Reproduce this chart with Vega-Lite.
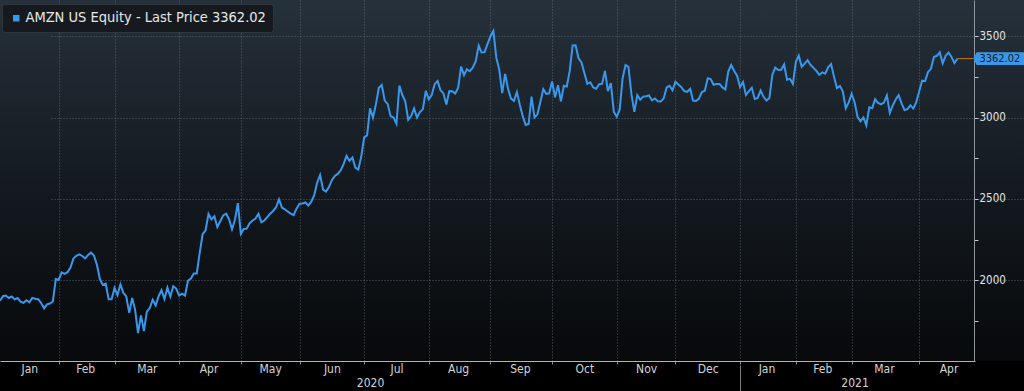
{
  "$schema": "https://vega.github.io/schema/vega-lite/v6.json",
  "width": 1024,
  "height": 361,
  "autosize": {"type": "none"},
  "padding": {"left": 0, "top": 0, "right": 0, "bottom": 30},
  "background": "#000000",
  "config": {
    "font": "DejaVu Sans Condensed, Liberation Sans",
    "view": {"stroke": null, "fill": {"gradient": "linear", "x1": 0, "y1": 0, "x2": 0, "y2": 1, "stops": [{"offset": 0, "color": "#26313b"}, {"offset": 0.5, "color": "#141a20"}, {"offset": 1, "color": "#07090b"}]}},
    "axis": {"labelFont": "DejaVu Sans Condensed, Liberation Sans", "title": null}
  },
  "data": {"values": [
    {"date":"2020-01-03","price":1874.97},{"date":"2020-01-06","price":1902.88},{"date":"2020-01-07","price":1906.86},{"date":"2020-01-08","price":1891.97},{"date":"2020-01-09","price":1901.05},{"date":"2020-01-10","price":1883.16},{"date":"2020-01-13","price":1891.30},{"date":"2020-01-14","price":1869.44},{"date":"2020-01-15","price":1862.02},{"date":"2020-01-16","price":1877.94},{"date":"2020-01-17","price":1864.72},{"date":"2020-01-21","price":1892.00},{"date":"2020-01-22","price":1887.46},{"date":"2020-01-23","price":1884.58},{"date":"2020-01-24","price":1861.64},{"date":"2020-01-27","price":1828.34},{"date":"2020-01-28","price":1853.25},{"date":"2020-01-29","price":1858.00},{"date":"2020-01-30","price":1870.68},{"date":"2020-01-31","price":2008.72},
    {"date":"2020-02-03","price":2004.20},{"date":"2020-02-04","price":2049.67},{"date":"2020-02-05","price":2039.87},{"date":"2020-02-06","price":2050.23},{"date":"2020-02-07","price":2079.28},{"date":"2020-02-10","price":2133.91},{"date":"2020-02-11","price":2150.80},{"date":"2020-02-12","price":2160.00},{"date":"2020-02-13","price":2149.87},{"date":"2020-02-14","price":2134.87},{"date":"2020-02-18","price":2155.67},{"date":"2020-02-19","price":2170.22},{"date":"2020-02-20","price":2153.10},{"date":"2020-02-21","price":2095.97},{"date":"2020-02-24","price":2009.29},{"date":"2020-02-25","price":1972.74},{"date":"2020-02-26","price":1979.59},{"date":"2020-02-27","price":1884.30},{"date":"2020-02-28","price":1883.75},
    {"date":"2020-03-02","price":1953.95},{"date":"2020-03-03","price":1908.99},{"date":"2020-03-04","price":1975.83},{"date":"2020-03-05","price":1924.03},{"date":"2020-03-06","price":1901.09},{"date":"2020-03-09","price":1800.61},{"date":"2020-03-10","price":1891.82},{"date":"2020-03-11","price":1820.86},{"date":"2020-03-12","price":1676.61},{"date":"2020-03-13","price":1785.00},{"date":"2020-03-16","price":1689.15},{"date":"2020-03-17","price":1807.84},{"date":"2020-03-18","price":1830.00},{"date":"2020-03-19","price":1880.93},{"date":"2020-03-20","price":1846.09},{"date":"2020-03-23","price":1902.83},{"date":"2020-03-24","price":1940.10},{"date":"2020-03-25","price":1885.84},{"date":"2020-03-26","price":1955.49},{"date":"2020-03-27","price":1900.10},{"date":"2020-03-30","price":1963.95},{"date":"2020-03-31","price":1949.72},
    {"date":"2020-04-01","price":1907.70},{"date":"2020-04-02","price":1918.83},{"date":"2020-04-03","price":1906.59},{"date":"2020-04-06","price":1997.59},{"date":"2020-04-07","price":2011.60},{"date":"2020-04-08","price":2043.00},{"date":"2020-04-09","price":2042.76},{"date":"2020-04-13","price":2168.87},{"date":"2020-04-14","price":2283.32},{"date":"2020-04-15","price":2307.68},{"date":"2020-04-16","price":2408.19},{"date":"2020-04-17","price":2375.00},{"date":"2020-04-20","price":2393.61},{"date":"2020-04-21","price":2328.12},{"date":"2020-04-22","price":2363.49},{"date":"2020-04-23","price":2399.45},{"date":"2020-04-24","price":2410.22},{"date":"2020-04-27","price":2376.00},{"date":"2020-04-28","price":2314.08},{"date":"2020-04-29","price":2372.71},{"date":"2020-04-30","price":2474.00},
    {"date":"2020-05-01","price":2286.04},{"date":"2020-05-04","price":2315.99},{"date":"2020-05-05","price":2317.80},{"date":"2020-05-06","price":2351.26},{"date":"2020-05-07","price":2367.61},{"date":"2020-05-08","price":2379.61},{"date":"2020-05-11","price":2409.00},{"date":"2020-05-12","price":2356.95},{"date":"2020-05-13","price":2367.92},{"date":"2020-05-14","price":2388.85},{"date":"2020-05-15","price":2409.78},{"date":"2020-05-18","price":2426.26},{"date":"2020-05-19","price":2449.33},{"date":"2020-05-20","price":2497.94},{"date":"2020-05-21","price":2446.74},{"date":"2020-05-22","price":2436.88},{"date":"2020-05-26","price":2421.86},{"date":"2020-05-27","price":2410.39},{"date":"2020-05-28","price":2401.10},{"date":"2020-05-29","price":2442.37},
    {"date":"2020-06-01","price":2471.04},{"date":"2020-06-02","price":2472.41},{"date":"2020-06-03","price":2478.40},{"date":"2020-06-04","price":2460.60},{"date":"2020-06-05","price":2483.00},{"date":"2020-06-08","price":2524.06},{"date":"2020-06-09","price":2600.86},{"date":"2020-06-10","price":2647.45},{"date":"2020-06-11","price":2557.96},{"date":"2020-06-12","price":2545.02},{"date":"2020-06-15","price":2572.68},{"date":"2020-06-16","price":2615.27},{"date":"2020-06-17","price":2640.98},{"date":"2020-06-18","price":2653.98},{"date":"2020-06-19","price":2675.01},{"date":"2020-06-22","price":2713.82},{"date":"2020-06-23","price":2764.41},{"date":"2020-06-24","price":2734.40},{"date":"2020-06-25","price":2754.58},{"date":"2020-06-26","price":2692.87},{"date":"2020-06-29","price":2680.38},{"date":"2020-06-30","price":2758.82},
    {"date":"2020-07-01","price":2878.70},{"date":"2020-07-02","price":2890.30},{"date":"2020-07-06","price":3057.04},{"date":"2020-07-07","price":3000.12},{"date":"2020-07-08","price":3081.11},{"date":"2020-07-09","price":3182.63},{"date":"2020-07-10","price":3200.00},{"date":"2020-07-13","price":3104.00},{"date":"2020-07-14","price":3084.00},{"date":"2020-07-15","price":3008.87},{"date":"2020-07-16","price":2999.90},{"date":"2020-07-17","price":2961.97},{"date":"2020-07-20","price":3196.84},{"date":"2020-07-21","price":3138.29},{"date":"2020-07-22","price":3099.91},{"date":"2020-07-23","price":2986.55},{"date":"2020-07-24","price":3008.91},{"date":"2020-07-27","price":3055.21},{"date":"2020-07-28","price":3000.33},{"date":"2020-07-29","price":3033.53},{"date":"2020-07-30","price":3051.88},{"date":"2020-07-31","price":3164.68},
    {"date":"2020-08-03","price":3111.89},{"date":"2020-08-04","price":3138.83},{"date":"2020-08-05","price":3205.03},{"date":"2020-08-06","price":3225.00},{"date":"2020-08-07","price":3167.46},{"date":"2020-08-10","price":3148.16},{"date":"2020-08-11","price":3080.67},{"date":"2020-08-12","price":3162.24},{"date":"2020-08-13","price":3161.02},{"date":"2020-08-14","price":3148.02},{"date":"2020-08-17","price":3182.41},{"date":"2020-08-18","price":3312.49},{"date":"2020-08-19","price":3260.48},{"date":"2020-08-20","price":3297.37},{"date":"2020-08-21","price":3284.72},{"date":"2020-08-24","price":3307.46},{"date":"2020-08-25","price":3346.49},{"date":"2020-08-26","price":3441.85},{"date":"2020-08-27","price":3400.00},{"date":"2020-08-28","price":3401.80},{"date":"2020-08-31","price":3450.96},
    {"date":"2020-09-01","price":3499.12},{"date":"2020-09-02","price":3531.45},{"date":"2020-09-03","price":3368.00},{"date":"2020-09-04","price":3294.62},{"date":"2020-09-08","price":3149.84},{"date":"2020-09-09","price":3268.61},{"date":"2020-09-10","price":3175.11},{"date":"2020-09-11","price":3116.22},{"date":"2020-09-14","price":3102.97},{"date":"2020-09-15","price":3156.13},{"date":"2020-09-16","price":3078.10},{"date":"2020-09-17","price":3008.73},{"date":"2020-09-18","price":2954.91},{"date":"2020-09-21","price":2960.47},{"date":"2020-09-22","price":3128.99},{"date":"2020-09-23","price":2999.86},{"date":"2020-09-24","price":3019.79},{"date":"2020-09-25","price":3095.13},{"date":"2020-09-28","price":3174.05},{"date":"2020-09-29","price":3144.88},{"date":"2020-09-30","price":3148.73},
    {"date":"2020-10-01","price":3221.26},{"date":"2020-10-02","price":3125.00},{"date":"2020-10-05","price":3199.20},{"date":"2020-10-06","price":3099.96},{"date":"2020-10-07","price":3195.69},{"date":"2020-10-08","price":3190.55},{"date":"2020-10-09","price":3286.65},{"date":"2020-10-12","price":3442.93},{"date":"2020-10-13","price":3443.63},{"date":"2020-10-14","price":3363.71},{"date":"2020-10-15","price":3338.65},{"date":"2020-10-16","price":3272.71},{"date":"2020-10-19","price":3207.21},{"date":"2020-10-20","price":3217.01},{"date":"2020-10-21","price":3184.94},{"date":"2020-10-22","price":3176.40},{"date":"2020-10-23","price":3204.40},{"date":"2020-10-26","price":3207.04},{"date":"2020-10-27","price":3286.33},{"date":"2020-10-28","price":3162.78},{"date":"2020-10-29","price":3211.01},{"date":"2020-10-30","price":3036.15},
    {"date":"2020-11-02","price":3004.48},{"date":"2020-11-03","price":3048.41},{"date":"2020-11-04","price":3241.16},{"date":"2020-11-05","price":3322.00},{"date":"2020-11-06","price":3311.37},{"date":"2020-11-09","price":3143.74},{"date":"2020-11-10","price":3035.02},{"date":"2020-11-11","price":3137.39},{"date":"2020-11-12","price":3110.28},{"date":"2020-11-13","price":3128.81},{"date":"2020-11-16","price":3131.06},{"date":"2020-11-17","price":3135.66},{"date":"2020-11-18","price":3105.46},{"date":"2020-11-19","price":3117.02},{"date":"2020-11-20","price":3099.40},{"date":"2020-11-23","price":3098.39},{"date":"2020-11-24","price":3118.06},{"date":"2020-11-25","price":3185.07},{"date":"2020-11-27","price":3195.34},{"date":"2020-11-30","price":3168.04},
    {"date":"2020-12-01","price":3220.08},{"date":"2020-12-02","price":3203.53},{"date":"2020-12-03","price":3186.73},{"date":"2020-12-04","price":3162.58},{"date":"2020-12-07","price":3158.00},{"date":"2020-12-08","price":3177.29},{"date":"2020-12-09","price":3104.20},{"date":"2020-12-10","price":3101.49},{"date":"2020-12-11","price":3116.42},{"date":"2020-12-14","price":3156.97},{"date":"2020-12-15","price":3165.12},{"date":"2020-12-16","price":3240.96},{"date":"2020-12-17","price":3236.08},{"date":"2020-12-18","price":3201.65},{"date":"2020-12-21","price":3206.18},{"date":"2020-12-22","price":3206.52},{"date":"2020-12-23","price":3185.27},{"date":"2020-12-24","price":3172.69},{"date":"2020-12-28","price":3283.96},{"date":"2020-12-29","price":3322.00},{"date":"2020-12-30","price":3285.85},{"date":"2020-12-31","price":3256.93},
    {"date":"2021-01-04","price":3186.63},{"date":"2021-01-05","price":3218.51},{"date":"2021-01-06","price":3138.38},{"date":"2021-01-07","price":3162.16},{"date":"2021-01-08","price":3182.70},{"date":"2021-01-11","price":3114.21},{"date":"2021-01-12","price":3120.83},{"date":"2021-01-13","price":3165.89},{"date":"2021-01-14","price":3127.47},{"date":"2021-01-15","price":3104.25},{"date":"2021-01-19","price":3120.76},{"date":"2021-01-20","price":3263.38},{"date":"2021-01-21","price":3306.99},{"date":"2021-01-22","price":3292.23},{"date":"2021-01-25","price":3294.00},{"date":"2021-01-26","price":3326.13},{"date":"2021-01-27","price":3232.58},{"date":"2021-01-28","price":3237.62},{"date":"2021-01-29","price":3206.20},
    {"date":"2021-02-01","price":3342.88},{"date":"2021-02-02","price":3380.00},{"date":"2021-02-03","price":3312.53},{"date":"2021-02-04","price":3331.00},{"date":"2021-02-05","price":3352.15},{"date":"2021-02-08","price":3322.94},{"date":"2021-02-09","price":3305.00},{"date":"2021-02-10","price":3286.58},{"date":"2021-02-11","price":3262.13},{"date":"2021-02-12","price":3277.71},{"date":"2021-02-16","price":3268.95},{"date":"2021-02-17","price":3308.64},{"date":"2021-02-18","price":3328.23},{"date":"2021-02-19","price":3249.90},{"date":"2021-02-22","price":3180.74},{"date":"2021-02-23","price":3194.50},{"date":"2021-02-24","price":3159.53},{"date":"2021-02-25","price":3057.16},{"date":"2021-02-26","price":3092.93},
    {"date":"2021-03-01","price":3146.14},{"date":"2021-03-02","price":3094.53},{"date":"2021-03-03","price":3005.00},{"date":"2021-03-04","price":2977.57},{"date":"2021-03-05","price":3000.46},{"date":"2021-03-08","price":2951.95},{"date":"2021-03-09","price":3062.85},{"date":"2021-03-10","price":3057.64},{"date":"2021-03-11","price":3113.59},{"date":"2021-03-12","price":3089.49},{"date":"2021-03-15","price":3081.68},{"date":"2021-03-16","price":3091.86},{"date":"2021-03-17","price":3135.73},{"date":"2021-03-18","price":3027.99},{"date":"2021-03-19","price":3074.96},{"date":"2021-03-22","price":3110.87},{"date":"2021-03-23","price":3137.50},{"date":"2021-03-24","price":3087.07},{"date":"2021-03-25","price":3046.26},{"date":"2021-03-26","price":3052.03},{"date":"2021-03-29","price":3075.73},{"date":"2021-03-30","price":3055.29},{"date":"2021-03-31","price":3094.08},
    {"date":"2021-04-01","price":3161.00},{"date":"2021-04-05","price":3226.73},{"date":"2021-04-06","price":3223.82},{"date":"2021-04-07","price":3279.39},{"date":"2021-04-08","price":3299.30},{"date":"2021-04-09","price":3372.20},{"date":"2021-04-12","price":3379.39},{"date":"2021-04-13","price":3400.00},{"date":"2021-04-14","price":3333.00},{"date":"2021-04-15","price":3379.09},{"date":"2021-04-16","price":3399.44},{"date":"2021-04-19","price":3372.01},{"date":"2021-04-20","price":3334.69},{"date":"2021-04-21","price":3362.02}
  ]},
  "encoding": {
    "y": {
      "field": "price", "type": "quantitative",
      "scale": {"domain": [1505, 3722], "nice": false, "zero": false},
      "axis": {
        "orient": "right", "offset": -50, "title": null,
        "values": [1750, 2000, 2250, 2500, 2750, 3000, 3250, 3500],
        "format": "d",
        "labelExpr": "datum.value % 500 == 0 ? datum.label : ''",
        "grid": true, "gridColor": "#6a737d", "gridDash": [1, 2],
        "gridOpacity": {"condition": {"test": "datum.value % 500 == 0", "value": 0.75}, "value": 0},
        "domainColor": "#8e949b", "tickColor": "#c8c8c8", "tickSize": 4,
        "labelColor": "#e4e4e4", "labelFontSize": 11.5, "labelPadding": 1
      }
    }
  },
  "layer": [
    {
      "mark": {"type": "line", "color": "#3a98ec", "strokeWidth": 2},
      "encoding": {
        "x": {
          "field": "date", "type": "ordinal",
          "scale": {"type": "point", "range": [0, 975], "padding": 0, "align": 0, "domain": {"unionWith": ["2021-04-22", "2021-04-23", "2021-04-26", "2021-04-27", "2021-04-28", "2021-04-29"]}},
          "axis": {
            "orient": "bottom",
            "values": ["2020-02-03","2020-03-02","2020-04-01","2020-05-01","2020-06-01","2020-07-01","2020-08-03","2020-09-01","2020-10-01","2020-11-02","2020-12-01","2021-01-04","2021-02-01","2021-03-01","2021-04-01"],
            "labels": false, "title": null,
            "grid": true, "gridColor": "#6a737d", "gridDash": [1, 2], "gridOpacity": 0.75,
            "ticks": true, "tickSize": 3, "tickColor": "#8a8a8a",
            "domain": true, "domainColor": "#b4b4b4"
          }
        }
      }
    },
    {
      "transform": [{"filter": "datum.date == '2021-04-21'"}],
      "mark": {"type": "rule", "color": "#c47a1c", "strokeWidth": 1, "x2Offset": 16},
      "encoding": {
        "x": {
          "field": "date", "type": "ordinal",
          "axis": {
            "orient": "bottom",
            "values": ["2020-01-17","2020-02-14","2020-03-17","2020-04-16","2020-05-15","2020-06-16","2020-07-17","2020-08-17","2020-09-16","2020-10-16","2020-11-16","2020-12-16","2021-01-15","2021-02-12","2021-03-16","2021-04-16"],
            "labelExpr": "utcFormat(toDate(datum.value), '%b')",
            "labelAngle": 0, "labelOverlap": false, "labelBound": false, "labelFlush": false,
            "labelColor": "#d4d4d4", "labelFontSize": 12, "labelPadding": 2,
            "grid": false, "ticks": false, "domain": false, "title": null
          }
        },
        "x2": {"field": "date"}
      }
    },
    {
      "transform": [{"filter": "datum.date == '2021-04-21'"}],
      "mark": {"type": "point", "filled": true, "opacity": 1, "strokeWidth": 0, "xOffset": 43, "shape": "M -1 0 L -0.88 -0.24 L 1 -0.24 L 1 0.24 L -0.88 0.24 Z", "size": 2916},
      "encoding": {
        "x": {
          "field": "date", "type": "ordinal",
          "axis": {
            "orient": "bottom",
            "values": ["2020-07-06", "2021-03-02"],
            "labelExpr": "substring(datum.value, 0, 4)",
            "labelAngle": 0, "labelOverlap": false, "labelBound": false, "labelFlush": false,
            "labelColor": "#d4d4d4", "labelFontSize": 12, "labelPadding": 16,
            "grid": false, "ticks": false, "domain": false, "title": null
          }
        },
        "color": {
          "datum": "AMZN US Equity - Last Price 3362.02",
          "scale": {"range": ["#3a98ec"]},
          "legend": {
            "orient": "none", "legendX": 2, "legendY": 4, "title": null,
            "fillColor": "#161a1f", "strokeColor": "#30363d", "cornerRadius": 3, "padding": 7,
            "symbolType": "square", "symbolSize": 42, "symbolStrokeWidth": 0,
            "labelFont": "DejaVu Sans Condensed, Liberation Sans", "labelFontSize": 14.5, "labelColor": "#e8e8e8",
            "labelOffset": 2, "labelLimit": 0
          }
        }
      }
    },
    {
      "transform": [{"filter": "datum.date == '2021-04-21'"}],
      "mark": {"type": "text", "dx": 22, "dy": 0.5, "align": "left", "baseline": "middle", "font": "DejaVu Sans Condensed, Liberation Sans", "fontSize": 11, "color": "#0b1b2b", "limit": 0},
      "encoding": {
        "x": {
          "field": "date", "type": "ordinal",
          "axis": {
            "orient": "bottom",
            "values": ["2021-01-04"],
            "labels": false, "grid": false, "domain": false, "title": null,
            "ticks": true, "tickSize": 27, "offset": 4, "tickColor": "#7a7a7a"
          }
        },
        "text": {"field": "price", "type": "quantitative", "format": ".2f"}
      }
    }
  ],
  "resolve": {"axis": {"x": "independent"}}
}
